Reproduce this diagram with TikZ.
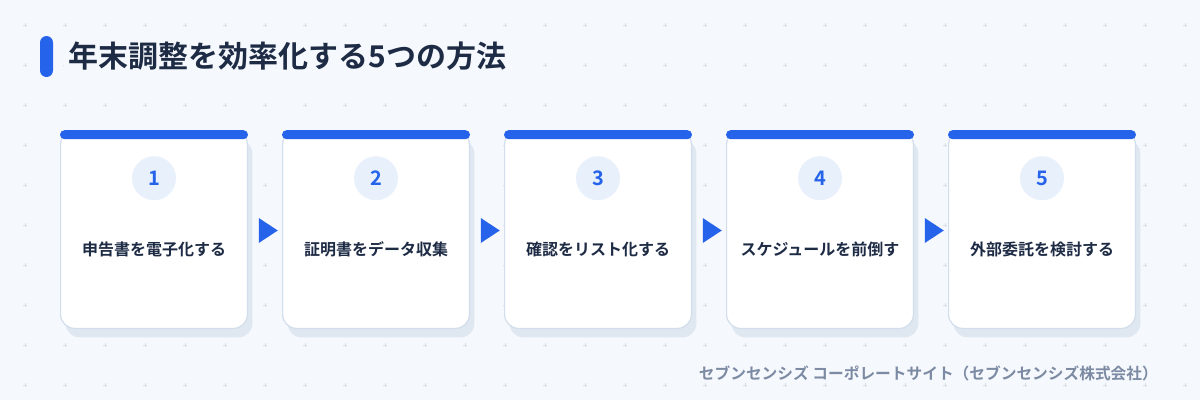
\documentclass[tikz,border=0pt]{standalone}
\usepackage{fontspec}
\setmainfont{Noto Sans CJK JP}[BoldFont={Noto Sans CJK JP Bold}]
\usetikzlibrary{calc,chains,positioning,shadows,shapes.geometric}
\definecolor{pagebg}{HTML}{F5F8FC}
\definecolor{accent}{HTML}{2563EB}
\definecolor{ink}{HTML}{1E2B45}
\definecolor{muted}{HTML}{7C8BA3}
\definecolor{plusc}{HTML}{D8E0EA}
\definecolor{edgec}{HTML}{D3DEEC}
\definecolor{shadec}{HTML}{DFE7F1}
\definecolor{dotfill}{HTML}{E8F0FC}
\tikzset{card/.style={rectangle, draw=edgec, line width=1.2pt, fill=white, rounded corners=14pt, minimum width=186.8pt, minimum height=197.8pt, inner sep=0pt, drop shadow={shadow xshift=5pt, shadow yshift=-9pt, fill=shadec, opacity=1}},
    topbar/.style={rectangle, fill=accent, rounded corners=4.5pt, minimum width=188pt, minimum height=9pt, inner sep=0pt},
    numdot/.style={circle, fill=dotfill, minimum size=44pt, inner sep=0pt, text=accent, font=\bfseries\fontsize{20}{24}\selectfont},
    steplabel/.style={inner sep=0pt, text=ink, font=\bfseries\fontsize{16}{20}\selectfont},
    flowtip/.style={isosceles triangle, isosceles triangle stretches, fill=accent, minimum width=25pt, minimum height=19pt, inner sep=0pt},
    gridplus/.style={plusc, line width=0.8pt}}

\begin{document}
\begin{tikzpicture}[x=1pt, y=-1pt, start chain=going right, node distance=34pt]
    \fill[pagebg] (0,0) rectangle (1200,400);
    \useasboundingbox (0,0) rectangle (1200,400);
    \foreach \x in {25,65,...,1185} \foreach \y in {25,65,...,385} \draw[gridplus] (\x-2,\y) -- (\x+2,\y) (\x,\y-2) -- (\x,\y+2);
    % title
    \node[fill=accent, rounded corners=6.5pt, minimum width=13pt, minimum height=41pt, inner sep=0pt] (bar) at (46.5,56.5) {};
    \node[right=11pt of bar, fill=pagebg, inner sep=4pt, text=ink, font=\bfseries\fontsize{30}{36}\selectfont] (title) {年末調整を効率化する5つの方法};
    % cards
    \node[card,on chain] (C1) at (154,229.5) {};
    \node[card,on chain] (C2) {};
    \node[card,on chain] (C3) {};
    \node[card,on chain] (C4) {};
    \node[card,on chain] (C5) {};
    \node[topbar, below=0pt of C1.north] (B1) {};
    \node[topbar, below=0pt of C2.north] (B2) {};
    \node[topbar, below=0pt of C3.north] (B3) {};
    \node[topbar, below=0pt of C4.north] (B4) {};
    \node[topbar, below=0pt of C5.north] (B5) {};
    \node[numdot, below=26pt of C1.north] (N1) {1};
    \node[numdot, below=26pt of C2.north] (N2) {2};
    \node[numdot, below=26pt of C3.north] (N3) {3};
    \node[numdot, below=26pt of C4.north] (N4) {4};
    \node[numdot, below=26pt of C5.north] (N5) {5};
    \node[steplabel, below=71pt of N1.center, anchor=center] (L1) {申告書を電子化する};
    \node[steplabel, below=71pt of N2.center, anchor=center] (L2) {証明書をデータ収集};
    \node[steplabel, below=71pt of N3.center, anchor=center] (L3) {確認をリスト化する};
    \node[steplabel, below=71pt of N4.center, anchor=center] (L4) {スケジュールを前倒す};
    \node[steplabel, below=71pt of N5.center, anchor=center] (L5) {外部委託を検討する};
    % arrows between cards
    \node[flowtip] (A1) at ($(C1.east)!0.5!(C2.west)+(0.5,1)$) {};
    \node[flowtip] (A2) at ($(C2.east)!0.5!(C3.west)+(0.5,1)$) {};
    \node[flowtip] (A3) at ($(C3.east)!0.5!(C4.west)+(0.5,1)$) {};
    \node[flowtip] (A4) at ($(C4.east)!0.5!(C5.west)+(0.5,1)$) {};
    % footer
    \node[anchor=east, text=muted, inner sep=0pt, font=\bfseries\fontsize{15.7}{18}\selectfont] (src) at (1158,373) {セブンセンシズ コーポレートサイト（セブンセンシズ株式会社）};
\end{tikzpicture}
\end{document}
